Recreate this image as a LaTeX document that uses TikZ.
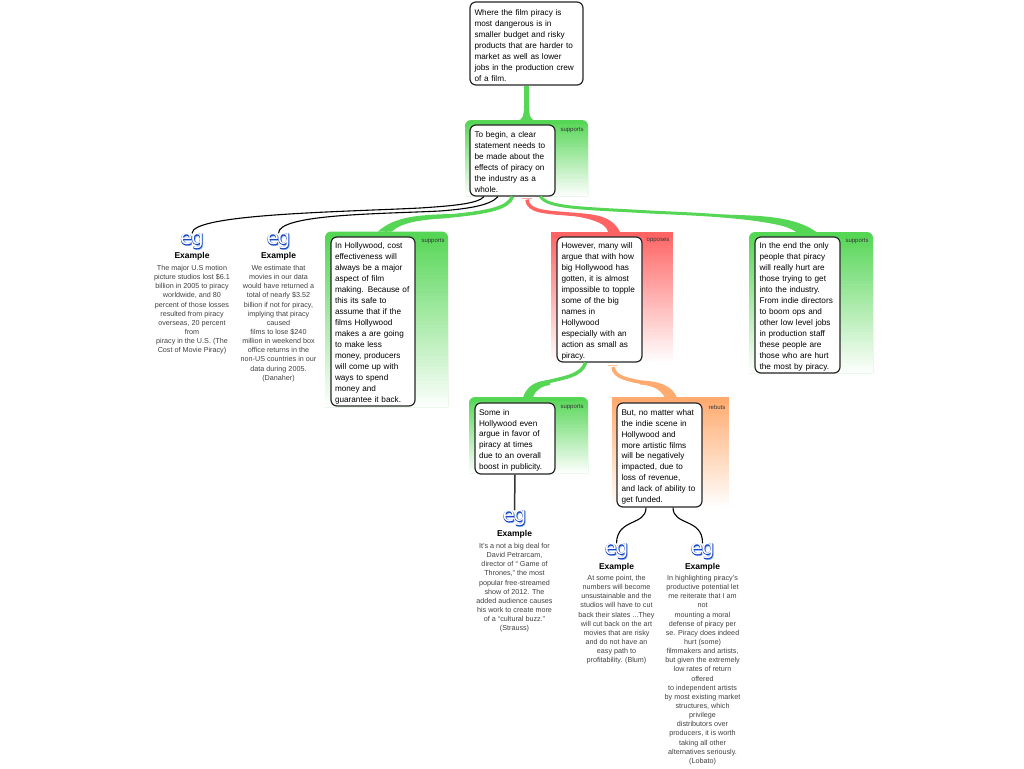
\documentclass[tikz,border=0pt]{standalone}
\usepackage{fontspec}
\setmainfont{Liberation Sans}
\newfontfamily\egfat[FakeBold=3.5]{DejaVu Sans}
\newfontfamily\egthin{DejaVu Sans}
\usepackage{xcolor}
\definecolor{supportgreen}{RGB}{85,214,85}
\definecolor{opposered}{RGB}{255,100,100}
\definecolor{rebutorange}{RGB}{255,170,110}
\definecolor{egblue}{RGB}{15,60,190}
\definecolor{egshade}{RGB}{130,170,235}
\hyphenpenalty=10000
\newcommand{\egmark}{\rlap{\kern0.7pt\raisebox{-0.7pt}{\textcolor{egshade}{\egfat e\kern-1.2pt g}}}\rlap{\textcolor{egblue}{\egfat e\kern-1.2pt g}}\textcolor{white}{\egthin e\kern-1.2pt g}}
% panel: colour, corner style, left, top, right, bottom
\newcommand{\panelfill}[6]{
  \fill[#1] (#3,#6) [#2] -- (#3,#4) -- (#5,#4) [sharp corners] -- (#5,#6) -- cycle;
  \foreach \k [evaluate=\k as \yy using #4+(#6-#4)/100*\k, evaluate=\k as \pct using 100-\k] in {5,7,...,99}
    \fill[#1!\pct] (#3,\yy) rectangle (#5,#6);
}
\tikzset{
  qbox/.style={draw=black!85,line width=1.2pt,fill=white,rounded corners=6pt,inner sep=0pt,align=left,execute at begin node={\rule{0pt}{9.6pt}},font=\fontsize{8.2}{10.95}\selectfont},
  tag/.style={inner sep=0pt,text=black!80,font=\fontsize{6}{7}\selectfont},
  egicon/.style={inner sep=0pt,font=\fontsize{20}{20}\selectfont},
  eghead/.style={inner sep=0pt,font=\bfseries\fontsize{8.5}{10}\selectfont},
  egtext/.style={inner sep=0pt,anchor=north,align=center,text=black!75,font=\fontsize{7.2}{9.15}\selectfont},
  backlink/.style={draw=black,line width=1.1pt},
  flare/.pic={\fill (-9,0.5) .. controls (-4,0) and (-2.5,-4) .. (-2.5,-15) -- (2.5,-15) .. controls (2.5,-4) and (4,0) .. (9,0.5) -- cycle;}
}
\begin{document}
\begin{tikzpicture}[x=1pt,y=-1pt]
  \useasboundingbox[fill=white] (0,0) rectangle (1024,768);

  % Panels behind the boxes
  \panelfill{supportgreen}{rounded corners=6pt}{465}{120}{588}{196}
  \panelfill{supportgreen}{rounded corners=6pt}{325}{231.5}{448}{407}
  \panelfill{opposered}{sharp corners}{551}{231.5}{673}{362}
  \panelfill{supportgreen}{rounded corners=6pt}{749}{232}{873}{373}
  \panelfill{supportgreen}{rounded corners=6pt}{469}{397}{588}{473}
  \panelfill{rebutorange}{sharp corners}{612}{397}{729}{507}

  % Ends of the links
  \coordinate (p2) at (526.5,120);
  \coordinate (p3) at (385,231.5);
  \coordinate (p4) at (614,231.5);
  \coordinate (p5) at (528,397);
  \coordinate (p6) at (671,397);
  \coordinate (p7) at (807,232);

  % Boxes
  \node[qbox,minimum width=113pt,minimum height=83pt,text width=104pt] (q1) at (526.5,43.5) {Where the film piracy is\\most dangerous is in\\smaller budget and risky\\products that are harder to\\market as well as lower\\jobs in the production crew\\of a film.};
  \node[qbox,minimum width=85pt,minimum height=71pt,text width=76pt] (q2) at (512.5,160.5) {To begin, a clear\\statement needs to\\be made about the\\effects of piracy on\\the industry as a\\whole.};
  \node[qbox,minimum width=84pt,minimum height=169pt,text width=76pt] (q3) at (373,321.5) {In Hollywood, cost\\effectiveness will\\always be a major\\aspect of film\\making. Because of\\this its safe to\\assume that if the\\films Hollywood\\makes a are going\\to make less\\money, producers\\will come up with\\ways to spend\\money and\\guarantee it back.};
  \node[qbox,minimum width=85pt,minimum height=125pt,text width=76pt] (q4) at (599.5,299.5) {However, many will\\argue that with how\\big Hollywood has\\gotten, it is almost\\impossible to topple\\some of the big\\names in\\Hollywood\\especially with an\\action as small as\\piracy.};
  \node[qbox,minimum width=85pt,minimum height=136pt,text width=76pt] (q7) at (797.5,305) {In the end the only\\people that piracy\\will really hurt are\\those trying to get\\into the industry.\\From indie directors\\to boom ops and\\other low level jobs\\in production staff\\these people are\\those who are hurt\\the most by piracy.};
  \node[qbox,minimum width=80pt,minimum height=71pt,text width=72pt] (q5) at (515,438.5) {Some in\\Hollywood even\\argue in favor of\\piracy at times\\due to an overall\\boost in publicity.};
  \node[qbox,minimum width=85pt,minimum height=104pt,text width=76pt] (q6) at (659.5,455) {But, no matter what\\the indie scene in\\Hollywood and\\more artistic films\\will be negatively\\impacted, due to\\loss of revenue,\\and lack of ability to\\get funded.};

  % Panel tags
  \node[tag] (t2) at (572,130) {supports};
  \node[tag] (t3) at (433,241) {supports};
  \node[tag] (t4) at (658,241) {opposes};
  \node[tag] (t7) at (857,241) {supports};
  \node[tag] (t5) at (572,407) {supports};
  \node[tag] (t6) at (717,407) {rebuts};

  % Examples
  \node[egicon] (e1) at (192,241.5) {\egmark};
  \node[eghead] (h1) at (192,256.5) {Example};
  \node[egtext] (b1) at (192,265) {The major U.S motion\\picture studios lost \$6.1\\billion in 2005 to piracy\\worldwide, and 80\\percent of those losses\\resulted from piracy\\overseas, 20 percent\\from\\piracy in the U.S. (The\\Cost of Movie Piracy)};
  \node[egicon] (e2) at (278.5,241.5) {\egmark};
  \node[eghead] (h2) at (278.5,256.5) {Example};
  \node[egtext] (b2) at (278.5,265) {We estimate that\\movies in our data\\would have returned a\\total of nearly \$3.52\\billion if not for piracy,\\implying that piracy\\caused\\films to lose \$240\\million in weekend box\\office returns in the\\non-US countries in our\\data during 2005.\\(Danaher)};
  \node[egicon] (e3) at (514.5,518.5) {\egmark};
  \node[eghead] (h3) at (514.5,534.5) {Example};
  \node[egtext] (b3) at (514.5,543) {It's a not a big deal for\\David Petrarcam,\\director of “ Game of\\Thrones,” the most\\popular free-streamed\\show of 2012. The\\added audience causes\\his work to create more\\of a “cultural buzz.”\\(Strauss)};
  \node[egicon] (e4) at (616.5,551.5) {\egmark};
  \node[eghead] (h4) at (616.5,567.5) {Example};
  \node[egtext] (b4) at (616.5,575) {At some point, the\\numbers will become\\unsustainable and the\\studios will have to cut\\back their slates ...They\\will cut back on the art\\movies that are risky\\and do not have an\\easy path to\\profitability. (Blum)};
  \node[egicon] (e5) at (702.5,551.5) {\egmark};
  \node[eghead] (h5) at (702.5,567.5) {Example};
  \node[egtext] (b5) at (702.5,575) {In highlighting piracy's\\productive potential let\\me reiterate that I am\\not\\mounting a moral\\defense of piracy per\\se. Piracy does indeed\\hurt (some)\\filmmakers and artists,\\but given the extremely\\low rates of return\\offered\\to independent artists\\by most existing market\\structures, which\\privilege\\distributors over\\producers, it is worth\\taking all other\\alternatives seriously.\\(Lobato)};

  % Green links
  \draw[supportgreen,line width=4.5pt] (q1.south) -- (p2);
  \pic[supportgreen] at (p2) {flare};
  \draw[supportgreen,line width=3.5pt] (q2.south) .. controls (508,208) and (490,212) .. (450,216) .. controls (420,218) and (395,220) .. (p3);
  \fill[supportgreen] (450,214) .. controls (420,215) and (395,216) .. (378,231.5) -- (392,231.5) .. controls (398,225) and (415,219) .. (450,218) -- cycle;
  \draw[supportgreen,line width=3pt] ([xshift=28pt]q2.south) .. controls (548,208) and (580,208) .. (650,212) .. controls (700,214.5) and (770,216) .. (p7);
  \fill[supportgreen] (720,214.5) .. controls (760,215.5) and (795,216) .. (817,232.5) -- (797,232.5) .. controls (785,224) and (760,219) .. (720,217) -- cycle;
  \draw[supportgreen,line width=3.5pt] ([xshift=-14pt]q4.south) .. controls (582,376) and (562,378) .. (547,382) .. controls (538,384) and (530,388) .. (p5);
  \fill[supportgreen] (550,380) .. controls (535,381) and (527,386) .. (523,397.5) -- (533,397.5) .. controls (535,390) and (542,386) .. (550,385) -- cycle;

  % Red link
  \draw[opposered!60,line width=1pt] ([xshift=9.5pt,yshift=-1.5pt]q2.south) -- ([xshift=19.5pt,yshift=-1.5pt]q2.south);
  \draw[opposered,line width=3.5pt] ([xshift=14.5pt,yshift=-3pt]q2.south) .. controls (528,212) and (545,212) .. (575,214.5) .. controls (590,216) and (606,219) .. (p4);
  \fill[opposered] (575,213) .. controls (595,214) and (612,216) .. (620,232) -- (608,232) .. controls (606,224) and (596,220) .. (575,216) -- cycle;

  % Orange link
  \draw[rebutorange!70,line width=1pt] ([xshift=8.5pt,yshift=-2.5pt]q4.south) -- ([xshift=18.5pt,yshift=-2.5pt]q4.south);
  \draw[rebutorange,line width=3.5pt] ([xshift=13.5pt,yshift=-4.5pt]q4.south) .. controls (614,378) and (630,380) .. (645,383) .. controls (655,385) and (665,388) .. (p6);
  \fill[rebutorange] (640,380.5) .. controls (660,381) and (672,386) .. (677,397.5) -- (665,397.5) .. controls (660,389) and (652,385) .. (640,384.5) -- cycle;

  % Example links
  \draw[backlink] ([xshift=-28.5pt]q2.south) .. controls (478,204) and (450,206) .. (420,208) .. controls (340,212) and (192,214) .. (e1.north);
  \draw[backlink] ([xshift=-14.5pt]q2.south) .. controls (490,206) and (465,209) .. (440,211) .. controls (380,214) and (278,214) .. (e2.north);
  \draw[black!80,line width=1.5pt] (q5.south) -- (e3.north);
  \draw[backlink] ([xshift=-13.5pt]q6.south) .. controls (646,526) and (617,518) .. (e4.north);
  \draw[backlink] ([xshift=13.5pt]q6.south) .. controls (673,526) and (703,518) .. (e5.north);
\end{tikzpicture}
\end{document}
